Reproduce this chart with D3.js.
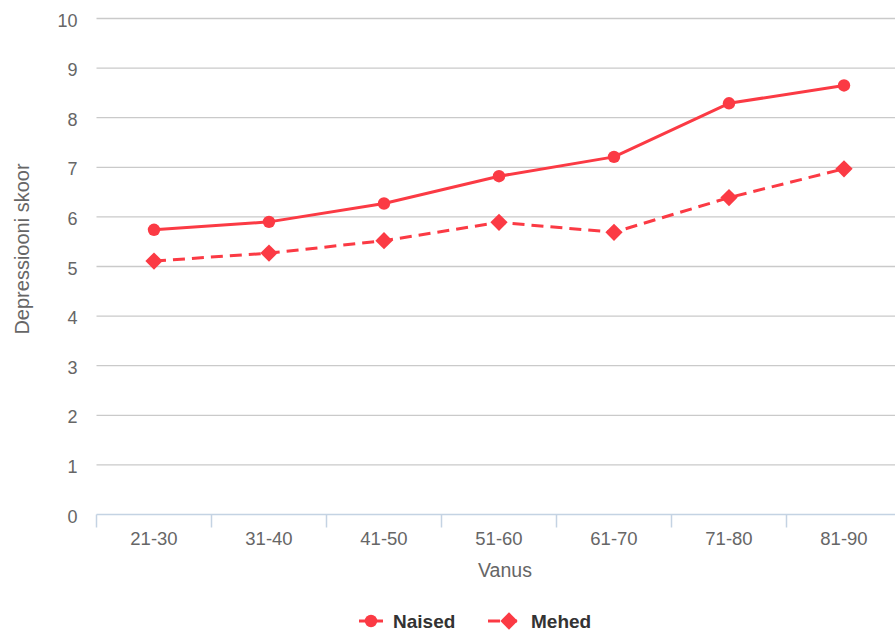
<!DOCTYPE html>
<html>
<head>
<meta charset="utf-8">
<script src="https://cdn.jsdelivr.net/npm/d3@7"></script>
<style>
  html, body { margin: 0; padding: 0; background: #fff; }
  svg { display: block; font-family: "Liberation Sans", Arial, Helvetica, sans-serif; }
</style>
</head>
<body>
<svg id="chart" width="895" height="631"></svg>
<script>
// Age groups on the x axis
const ageGroups = ["21-30", "31-40", "41-50", "51-60", "61-70", "71-80", "81-90"];
// Mean depression score per age group
const naised = [5.74, 5.90, 6.27, 6.82, 7.21, 8.29, 8.65];
const mehed  = [5.11, 5.27, 5.52, 5.89, 5.69, 6.39, 6.97];
const yTicks = [0, 1, 2, 3, 4, 5, 6, 7, 8, 9, 10];

const seriesNames = ["Naised", "Mehed"];
const seriesValues = [naised, mehed];

const color = "#fb3a44";
const W = 895, H = 631;
const plot = { left: 96.5, top: 18.5, width: 805, height: 496 };

const svg = d3.select("#chart");

const x = d3.scaleBand().domain(ageGroups)
  .range([plot.left, plot.left + plot.width]).paddingInner(0).paddingOuter(0);
const y = d3.scaleLinear().domain([0, 10]).range([plot.top + plot.height, plot.top]);

// Horizontal grid
svg.append("g")
  .selectAll("line")
  .data(yTicks.filter(d => d > 0))
  .join("line")
  .attr("x1", plot.left).attr("x2", W)
  .attr("y1", d => y(d)).attr("y2", d => y(d))
  .attr("stroke", "#cacaca").attr("stroke-width", 1.3);

// Y axis labels
const yAxis = d3.axisLeft(y).tickValues(yTicks).tickSize(0).tickPadding(19);
svg.append("g")
  .attr("transform", `translate(${plot.left},0)`)
  .call(yAxis)
  .call(g => g.select(".domain").remove())
  .call(g => g.selectAll("text")
    .attr("fill", "#666").attr("font-size", 18)
    .attr("font-family", "'Liberation Sans', Arial, sans-serif")
    .attr("dy", "0.42em"));

// X axis line and ticks on category boundaries
const xAxisY = y(0);
svg.append("line")
  .attr("x1", plot.left).attr("x2", W)
  .attr("y1", xAxisY).attr("y2", xAxisY)
  .attr("stroke", "#c4d3e3").attr("stroke-width", 1.5);
svg.append("g")
  .selectAll("line")
  .data(ageGroups)
  .join("line")
  .attr("x1", d => x(d)).attr("x2", d => x(d))
  .attr("y1", xAxisY).attr("y2", xAxisY + 13)
  .attr("stroke", "#c4d3e3").attr("stroke-width", 1.5);

// X labels
svg.append("g")
  .selectAll("text")
  .data(ageGroups)
  .join("text")
  .attr("x", d => x(d) + x.bandwidth() / 2)
  .attr("y", 544.5)
  .attr("text-anchor", "middle")
  .attr("fill", "#666").attr("font-size", 18.5)
  .text(d => d);

// Axis titles
svg.append("text")
  .attr("x", 505).attr("y", 577)
  .attr("text-anchor", "middle")
  .attr("fill", "#666").attr("font-size", 19.5)
  .text("Vanus");

svg.append("text")
  .attr("transform", "translate(29,249) rotate(-90)")
  .attr("text-anchor", "middle")
  .attr("fill", "#666").attr("font-size", 20)
  .text("Depressiooni skoor");

// Series lines
const line = d3.line()
  .x((d, i) => x(ageGroups[i]) + x.bandwidth() / 2)
  .y(d => y(d));

const dashes = [null, "12,7"];
seriesValues.forEach((vals, si) => {
  svg.append("path")
    .datum(vals)
    .attr("d", line)
    .attr("fill", "none")
    .attr("stroke", color)
    .attr("stroke-width", 3)
    .attr("stroke-linejoin", "round")
    .attr("stroke-dasharray", dashes[si]);
});

// Markers
const circleSym = d3.symbol().type(d3.symbolCircle).size(Math.PI * 6.2 * 6.2);
const diamondSym = d3.symbol().type(d3.symbolDiamond2).size(190);
const syms = [circleSym, diamondSym];
seriesValues.forEach((vals, si) => {
  svg.append("g")
    .selectAll("path")
    .data(vals)
    .join("path")
    .attr("transform", (d, i) => `translate(${x(ageGroups[i]) + x.bandwidth() / 2},${y(d)})`)
    .attr("d", syms[si]())
    .attr("fill", color);
});

// Legend
const legend = svg.append("g");
const ly = 621;
// Naised
legend.append("line")
  .attr("x1", 359).attr("x2", 383).attr("y1", ly).attr("y2", ly)
  .attr("stroke", color).attr("stroke-width", 3);
legend.append("path")
  .attr("transform", `translate(371,${ly})`)
  .attr("d", circleSym()).attr("fill", color);
legend.append("text")
  .attr("x", 393).attr("y", ly + 6.5)
  .attr("font-size", 19).attr("font-weight", "bold").attr("fill", "#333")
  .text(seriesNames[0]);
// Mehed
legend.append("line")
  .attr("x1", 488).attr("x2", 522).attr("y1", ly).attr("y2", ly)
  .attr("stroke", color).attr("stroke-width", 3)
  .attr("stroke-dasharray", "12,5");
legend.append("path")
  .attr("transform", `translate(509,${ly})`)
  .attr("d", diamondSym()).attr("fill", color);
legend.append("text")
  .attr("x", 531).attr("y", ly + 6.5)
  .attr("font-size", 19).attr("font-weight", "bold").attr("fill", "#333")
  .text(seriesNames[1]);
</script>
</body>
</html>
